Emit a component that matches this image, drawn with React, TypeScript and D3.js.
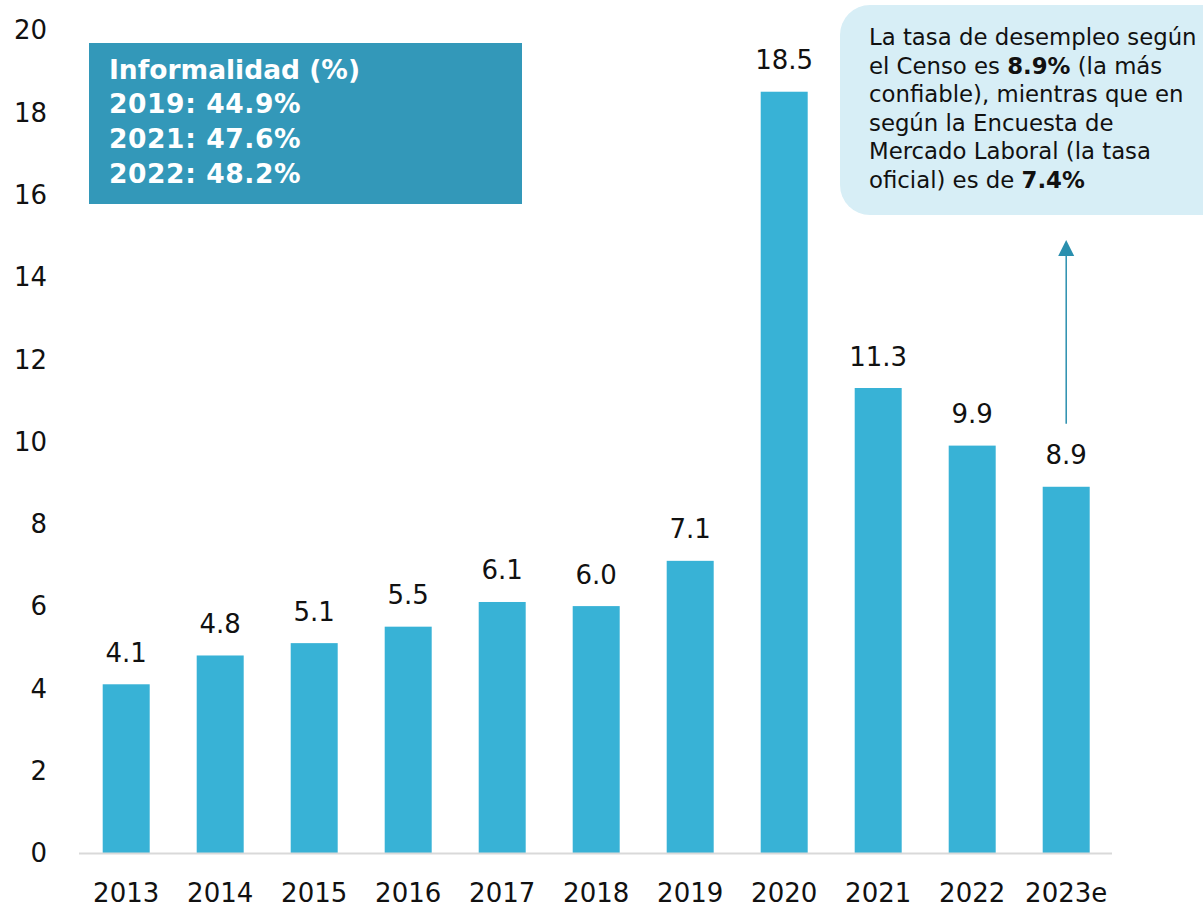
import React from "react";
import * as d3 from "d3";

const categories = ["2013", "2014", "2015", "2016", "2017", "2018", "2019", "2020", "2021", "2022", "2023e"];
const values = [4.1, 4.8, 5.1, 5.5, 6.1, 6.0, 7.1, 18.5, 11.3, 9.9, 8.9];
const yTicks = [0, 2, 4, 6, 8, 10, 12, 14, 16, 18, 20];
const infoLines = ["Informalidad (%)", "2019: 44.9%", "2021: 47.6%", "2022: 48.2%"];
const noteLines: { text: string; bold?: boolean }[][] = [
  [{ text: "La tasa de desempleo según" }],
  [{ text: "el Censo es " }, { text: "8.9%", bold: true }, { text: " (la más" }],
  [{ text: "confiable), mientras que en" }],
  [{ text: "según la Encuesta de" }],
  [{ text: "Mercado Laboral (la tasa" }],
  [{ text: "oficial) es de " }, { text: "7.4%", bold: true }],
];

const W = 1203;
const H = 908;
const FONT = "DejaVu Sans";

export default function App() {
  const x = d3.scaleBand<string>().domain(categories).range([79.2, 1113.2]).paddingInner(0.5).paddingOuter(0.25);
  const y = d3.scaleLinear().domain([0, 20]).range([853, 30]);
  const bw = x.bandwidth();
  const arrowX = (x("2023e") as number) + bw / 2;

  return (
    <svg width={W} height={H} style={{ position: "absolute", left: 0, top: 0, background: "#fff" }} fontFamily={FONT}>
      {/* y tick labels */}
      {yTicks.map((t) => (
        <text key={t} x={47} y={y(t)} dy="0.36em" textAnchor="end" fontSize={26} fill="#111">
          {t}
        </text>
      ))}
      {/* bars */}
      {categories.map((c, i) => (
        <rect key={c} x={x(c)} y={y(values[i])} width={bw} height={y(0) - y(values[i])} fill="#38b2d6" />
      ))}
      {/* value labels */}
      {categories.map((c, i) => (
        <text key={c} x={(x(c) as number) + bw / 2} y={y(values[i]) - 22.5} textAnchor="middle" fontSize={26} fill="#111">
          {values[i].toFixed(1)}
        </text>
      ))}
      {/* axis line */}
      <line x1={79} x2={1112} y1={853.5} y2={853.5} stroke="#d9d9d9" strokeWidth={2} />
      {/* x labels */}
      {categories.map((c) => (
        <text key={c} x={(x(c) as number) + bw / 2} y={902} textAnchor="middle" fontSize={26} fill="#111">
          {c}
        </text>
      ))}
      {/* Informalidad box */}
      <rect x={89} y={43} width={433} height={161} fill="#3398b9" />
      {infoLines.map((l, i) => (
        <text key={i} x={109} y={[79, 113, 148, 183][i]} fontSize={26.5} fontWeight="bold" fill="#fff" letterSpacing={i > 0 ? 0.6 : 0}>
          {l}
        </text>
      ))}
      {/* note box */}
      <rect x={840} y={5} width={420} height={210} rx={30} ry={30} fill="#d7eef6" />
      {noteLines.map((parts, i) => (
        <text key={i} x={869} y={45 + i * 28.6} fontSize={22.8} fill="#111">
          {parts.map((p, j) => (
            <tspan key={j} fontWeight={p.bold ? "bold" : "normal"}>
              {p.text}
            </tspan>
          ))}
        </text>
      ))}
      {/* arrow */}
      <line x1={arrowX} x2={arrowX} y1={y(values[10]) - 63} y2={255} stroke="#2a8fae" strokeWidth={1.5} />
      <polygon points={`${arrowX},240 ${arrowX - 8},256 ${arrowX + 8},256`} fill="#2a8fae" />
    </svg>
  );
}
